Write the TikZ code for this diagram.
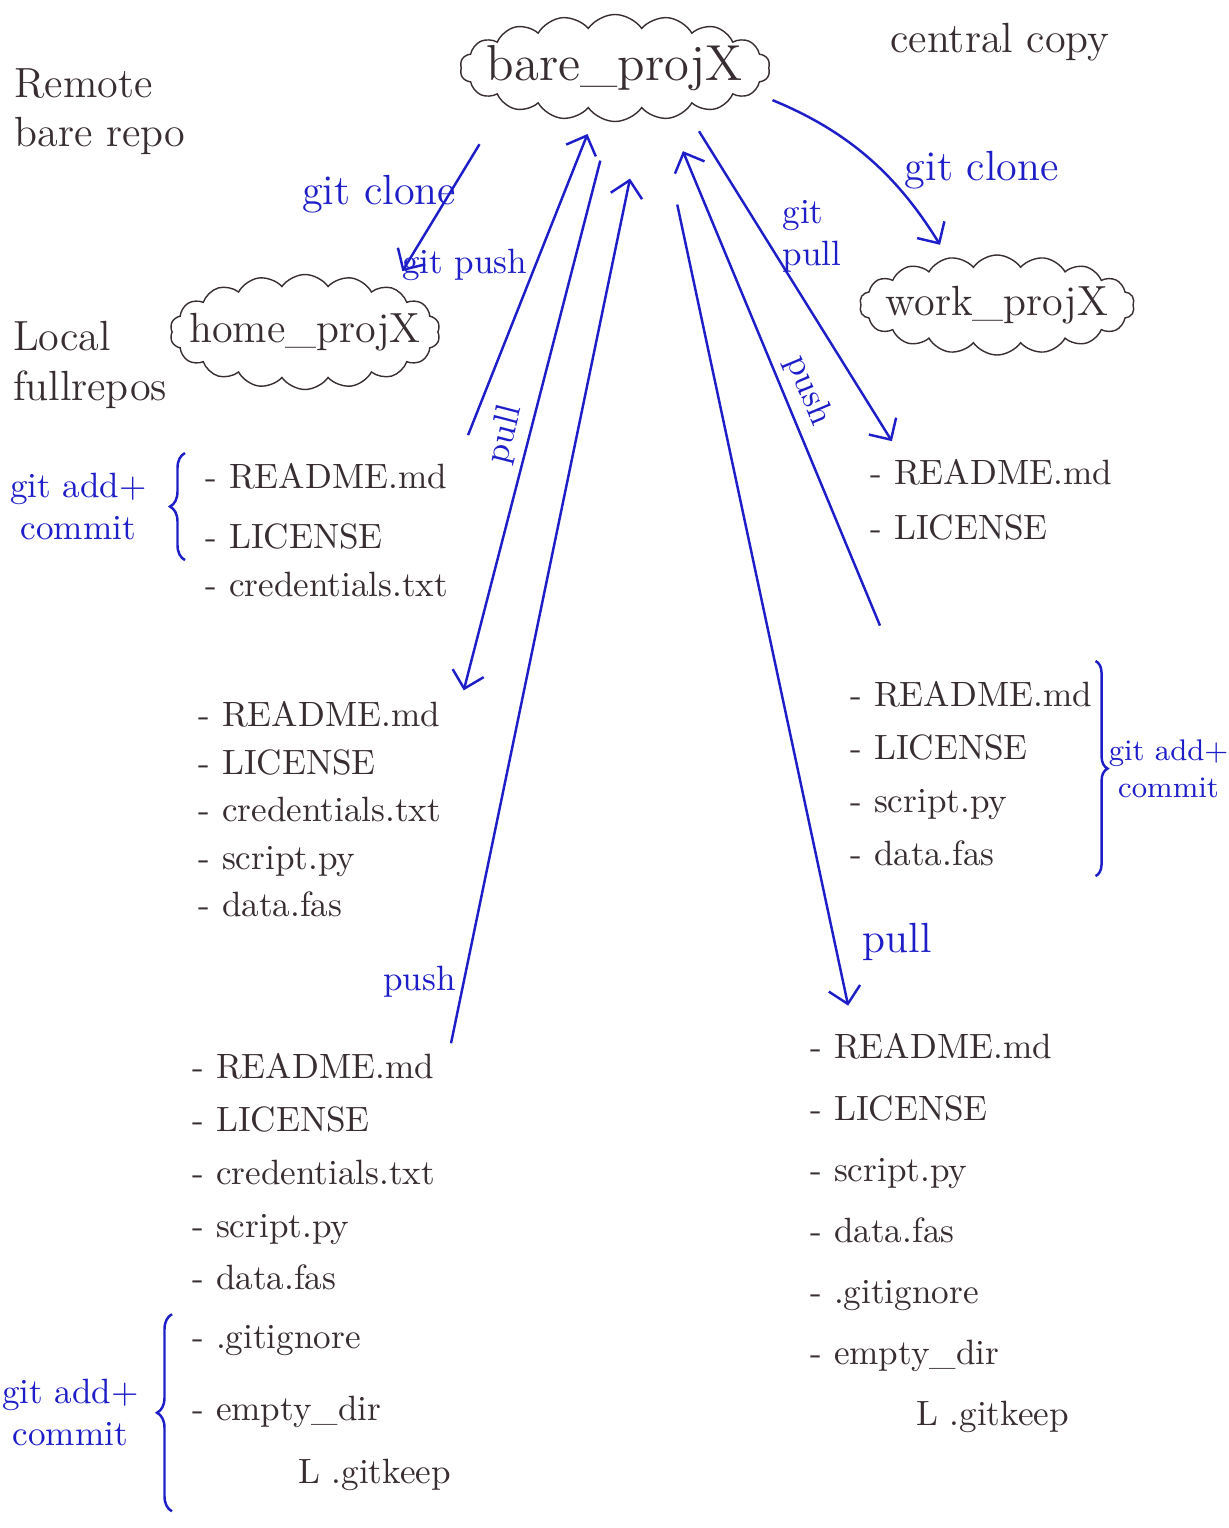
\documentclass[tikz,border=0pt]{standalone}
\usepackage{tikz}
\usetikzlibrary{arrows.meta,positioning,shapes.symbols,decorations.pathreplacing}

\definecolor{pen}{RGB}{30,30,200}
\definecolor{ink}{RGB}{55,45,50}

\begin{document}
\begin{tikzpicture}[
  x=0.1mm, y=0.1mm,
  repo/.style={cloud, cloud puffs=18, cloud puff arc=110, cloud ignores aspect, draw=ink, thin, text=ink, font=\large, inner xsep=-3mm, inner ysep=0pt},
  files/.style={align=left, anchor=north west, inner sep=0pt, text=ink},
  note/.style={align=left, text=ink, font=\large},
  hint/.style={text=pen, inner sep=2pt},
  arrow/.style={-{Straight Barb[length=1.6mm, width=3.2mm]}, pen, line width=0.7pt},
  brace/.style={pen, line width=0.7pt, decorate, decoration={brace, amplitude=1.5mm}}
]
\useasboundingbox (0,0) rectangle (1228,-1528);

% repositories
\node[repo, font=\Large, minimum width=31mm, minimum height=10.7mm] (bare) at (615,-68) {bare\_projX};
\node[repo, minimum width=27mm, minimum height=11.5mm] (home) at (305,-332) {home\_projX};
\node[repo, minimum width=27.5mm, minimum height=10mm] (work) at (997,-305) {work\_projX};

% side notes
\node[note] (remote) at (100,-112) {Remote\\bare repo};
\node[note] (central) at (1000,-42) {central copy};
\node[note] (local) at (90,-365) {Local\\fullrepos};

% home side
\node[files] (homeAa) at (205,-463) {- README.md\\[5pt]- LICENSE};
\node[files, below=6pt of homeAa.south west, anchor=north west] (homeAb) {- credentials.txt};
\node[files] (homeB) at (198,-701) {- README.md\\[1.5pt]- LICENSE\\[1.5pt]- credentials.txt\\[1.5pt]- script.py\\[1.5pt]- data.fas};
\node[files] (homeCa) at (192,-1053) {- README.md\\[3pt]- LICENSE\\[3pt]- credentials.txt\\[3pt]- script.py\\[3pt]- data.fas};
\node[files, below=9.5pt of homeCa.south west, anchor=north west] (homeCb) {- .gitignore\\[8.5pt]- empty\_dir\\[6pt]\hspace*{3em}L .gitkeep};

% work side
\node[files] (workA) at (870,-459) {- README.md\\[3.6pt]- LICENSE};
\node[files] (workB) at (850,-681) {- README.md\\[3pt]- LICENSE\\[3pt]- script.py\\[3pt]- data.fas};
\node[files] (workC) at (810,-1033) {- README.md\\[5.4pt]- LICENSE\\[5.4pt]- script.py\\[5.4pt]- data.fas\\[5.4pt]- .gitignore\\[5.4pt]- empty\_dir\\[5.4pt]\hspace*{3em}L .gitkeep};

% commits
\draw[brace] ([xshift=-2mm, yshift=-1mm]homeAa.south west) -- ([xshift=-2mm, yshift=1mm]homeAa.north west)
  node[hint, midway, left=3mm, align=center] {git add+\\commit};
\draw[brace] ([xshift=-2mm, yshift=-2mm]homeCb.south west) -- ([xshift=-2mm, yshift=1mm]homeCb.north west)
  node[hint, midway, left=2.5mm, align=center] {git add+\\commit};
\draw[brace, decoration={amplitude=1.2mm}] ([xshift=0.3mm, yshift=2mm]workB.north east) -- ([xshift=0.3mm, yshift=-1mm]workB.south east)
  node[hint, midway, right=1.2mm, inner sep=0pt, align=center, font=\fontsize{8.5}{10.5}\selectfont] {git add+\\commit};

% clone, push and pull
\draw[arrow, shorten <=4.7mm, shorten >=1.9mm] (bare.198) -- (home.27)
  node[hint, pos=0.49, left, xshift=1.5mm, font=\large] {git clone};
\draw[arrow, shorten <=3mm, shorten >=2mm] ([xshift=25.2mm]homeAa.north west) -- (bare.247)
  node[hint, pos=0.57, left] {git push};
\draw[arrow, shorten <=4mm, shorten >=1.1mm] (bare.265) -- ([xshift=26.3mm]homeB.north west)
  node[hint, pos=0.55, sloped, above] {pull};
\draw[arrow, shorten <=1mm, shorten >=6.9mm] ([xshift=25.7mm]homeCa.north west) -- (bare.304)
  node[hint, pos=0.076, left] {push};
\draw[arrow, shorten <=2.4mm, shorten >=2.1mm] (bare.329) -- ([xshift=3.3mm]workA.north west)
  node[hint, pos=0.36, right=1mm, align=left] {git\\pull};
\draw[arrow, shorten <=6mm, shorten >=3.5mm] ([xshift=5.3mm]workB.north west) -- (bare.317)
  node[hint, pos=0.5, sloped, above] {push};
\draw[arrow, shorten <=8.8mm, shorten >=2.8mm] (bare.311) -- ([xshift=4.4mm]workC.north west)
  node[hint, pos=0.9, right=2mm, font=\large] {pull};
\draw[arrow, shorten <=2mm, shorten >=1.5mm] (bare.350) to[bend left=18]
  node[hint, pos=0.45, right=4mm, yshift=-2mm, font=\large] {git clone} (work.136);
\end{tikzpicture}
\end{document}
